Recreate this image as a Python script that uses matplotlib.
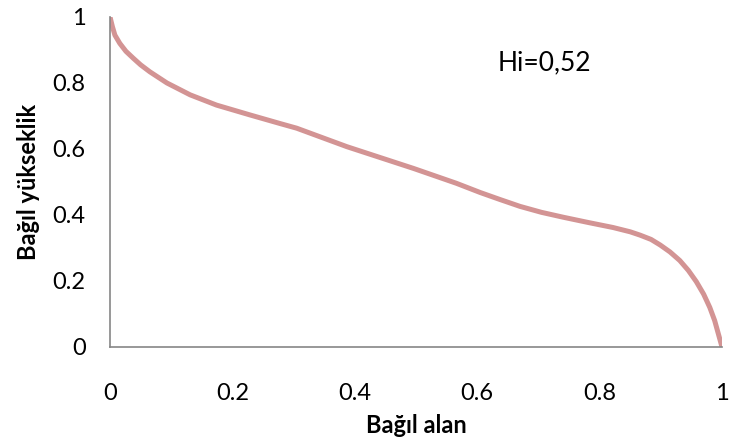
import matplotlib.pyplot as plt
import numpy as np

plt.rcParams['font.family'] = ['Lato', 'DejaVu Sans']

# Hypsometric curve values
rel_area = [0.0, 0.004, 0.008, 0.016, 0.026, 0.038, 0.050, 0.065, 0.093, 0.131,
            0.174, 0.229, 0.278, 0.305, 0.387, 0.496, 0.566, 0.605, 0.637, 0.670,
            0.705, 0.741, 0.782, 0.822, 0.850, 0.866, 0.884, 0.899, 0.915, 0.931,
            0.945, 0.958, 0.970, 0.980, 0.988, 0.994, 1.0]
rel_height = [1.0, 0.970, 0.945, 0.920, 0.896, 0.875, 0.855, 0.834, 0.800, 0.764,
              0.733, 0.703, 0.677, 0.663, 0.607, 0.541, 0.496, 0.468, 0.447, 0.426,
              0.408, 0.393, 0.377, 0.362, 0.349, 0.339, 0.326, 0.309, 0.288, 0.262,
              0.232, 0.198, 0.160, 0.120, 0.080, 0.040, 0.0]
ticks = [0, 0.2, 0.4, 0.6, 0.8, 1]
tick_labels = ['0', '0.2', '0.4', '0.6', '0.8', '1']

fig = plt.figure(figsize=(7.31, 4.41), dpi=100)
ax = fig.add_axes([0.1505, 0.2132, 0.8372, 0.7483])

ax.plot(rel_area, rel_height, color='#D39494', lw=3.6,
        solid_capstyle='butt', solid_joinstyle='round')

ax.set_xlim(0, 1)
ax.set_ylim(0, 1)
ax.set_xticks(ticks)
ax.set_xticklabels(tick_labels)
ax.set_yticks(ticks)
ax.set_yticklabels(tick_labels)
ax.tick_params(length=0, labelsize=17)
ax.tick_params(axis='x', pad=26)
ax.tick_params(axis='y', pad=17.5)

for s in ['top', 'right']:
    ax.spines[s].set_visible(False)
for s in ['left', 'bottom']:
    ax.spines[s].set_color('#868686')
    ax.spines[s].set_linewidth(1.2)

ax.set_xlabel('Bağıl alan', fontsize=17, fontweight='bold', labelpad=7)
ax.set_ylabel('Bağıl yükseklik', fontsize=17, fontweight='bold', labelpad=9)

ax.text(0.634, 0.86, 'Hi=0,52', transform=ax.transAxes, fontsize=19, va='center')

fig.savefig('out.png', dpi=100)
